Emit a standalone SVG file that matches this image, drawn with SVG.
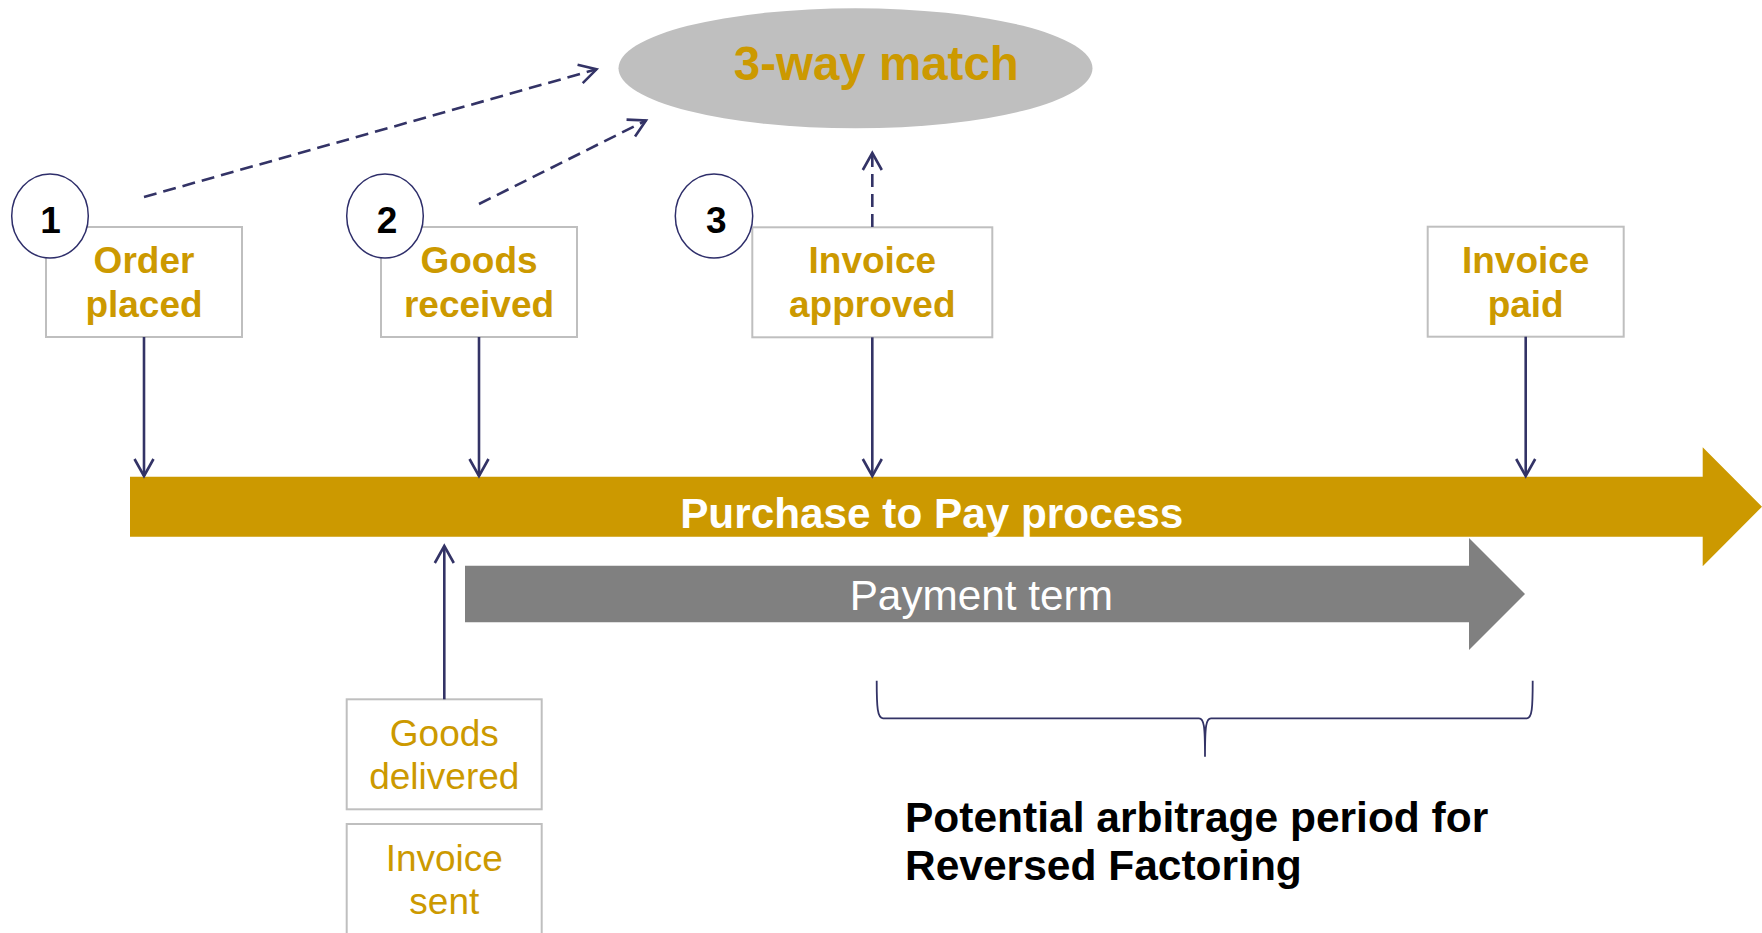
<svg xmlns="http://www.w3.org/2000/svg" width="1762" height="933" viewBox="0 0 1762 933">
<defs>
<style>
.box{fill:#FFFFFF;stroke:#BFBFBF;stroke-width:2}
.num{fill:#FFFFFF;stroke:#2E2E6A;stroke-width:1.5}
.numt{font-family:"Liberation Sans",Arial,sans-serif;font-weight:bold;font-size:37px;fill:#000000;text-anchor:middle}
.bt{font-family:"Liberation Sans",Arial,sans-serif;font-weight:bold;font-size:37px;fill:#CC9900;text-anchor:middle}
.rt{font-family:"Liberation Sans",Arial,sans-serif;font-size:37px;fill:#CC9900;text-anchor:middle}
.conn{fill:none;stroke:#333366;stroke-width:2.6}
.dash{stroke-dasharray:13 7}
</style>
<marker id="ah" markerUnits="userSpaceOnUse" viewBox="-20 -12 24 24" markerWidth="24" markerHeight="24" refX="0" refY="0" orient="auto">
<path d="M-17,-9.5 L0,0 L-17,9.5" fill="none" stroke="#333366" stroke-width="2.6"/>
</marker>
</defs>
<rect x="0" y="0" width="1762" height="933" fill="#FFFFFF"/>

<g id="match">
<ellipse cx="855.5" cy="68.3" rx="237" ry="60" fill="#BFBFBF"/>
<text x="876.3" y="80" font-family="Liberation Sans,Arial,sans-serif" font-weight="bold" font-size="47.5" fill="#CC9900" text-anchor="middle">3-way match</text>
</g>

<g id="p2p">
<polygon points="130,476.7 1702.7,476.7 1702.7,447.3 1762,506.7 1702.7,566.2 1702.7,536.7 130,536.7" fill="#CC9900"/>
<text x="931.7" y="528.3" font-family="Liberation Sans,Arial,sans-serif" font-weight="bold" font-size="42.3" fill="#FFFFFF" text-anchor="middle">Purchase to Pay process</text>
</g>

<g id="payterm">
<polygon points="465,565.7 1469,565.7 1469,538 1525,594 1469,650 1469,622.3 465,622.3" fill="#808080"/>
<text x="981.3" y="610" font-family="Liberation Sans,Arial,sans-serif" font-size="42.3" fill="#FFFFFF" text-anchor="middle">Payment term</text>
</g>

<g id="order">
<rect class="box" x="46" y="227" width="196" height="110"/>
<text class="bt" x="144" y="273.3">Order</text>
<text class="bt" x="144" y="316.7">placed</text>
</g>
<g id="step1">
<ellipse class="num" cx="50" cy="216" rx="38.3" ry="42"/>
<text class="numt" x="50.5" y="232.5">1</text>
</g>

<g id="goodsreceived">
<rect class="box" x="381" y="227" width="196" height="110"/>
<text class="bt" x="479" y="273.3">Goods</text>
<text class="bt" x="479" y="316.7">received</text>
</g>
<g id="step2">
<ellipse class="num" cx="385" cy="216" rx="38.3" ry="42"/>
<text class="numt" x="387" y="232.5">2</text>
</g>

<g id="approved">
<rect class="box" x="752.3" y="227.3" width="240" height="110"/>
<text class="bt" x="872.3" y="273.3">Invoice</text>
<text class="bt" x="872.3" y="316.7">approved</text>
</g>
<g id="step3">
<ellipse class="num" cx="714" cy="216" rx="38.7" ry="42"/>
<text class="numt" x="716.3" y="232.5">3</text>
</g>

<g id="paid">
<rect class="box" x="1427.7" y="226.7" width="196" height="110"/>
<text class="bt" x="1525.7" y="273.3">Invoice</text>
<text class="bt" x="1525.7" y="316.7">paid</text>
</g>

<g id="delivered">
<rect class="box" x="346.7" y="699.3" width="195" height="110"/>
<text class="rt" x="444.3" y="746">Goods</text>
<text class="rt" x="444.3" y="789.3">delivered</text>
</g>

<g id="invoicesent">
<rect class="box" x="346.7" y="824" width="195" height="112"/>
<text class="rt" x="444.3" y="870.7">Invoice</text>
<text class="rt" x="444.3" y="914">sent</text>
</g>

<g id="arbitrage">
<text x="905" y="831.7" font-family="Liberation Sans,Arial,sans-serif" font-weight="bold" font-size="42.5" fill="#000000">Potential arbitrage period for</text>
<text x="905" y="880" font-family="Liberation Sans,Arial,sans-serif" font-weight="bold" font-size="42.5" fill="#000000">Reversed Factoring</text>
</g>

<g id="connectors">
<line class="conn dash" x1="144" y1="197" x2="596.5" y2="69.3" marker-end="url(#ah)"/>
<line class="conn dash" x1="479" y1="204" x2="646" y2="120.5" marker-end="url(#ah)"/>
<line class="conn dash" x1="872.3" y1="227" x2="872.3" y2="153" marker-end="url(#ah)"/>
<line class="conn" x1="144" y1="337" x2="144" y2="476" marker-end="url(#ah)"/>
<line class="conn" x1="479" y1="337" x2="479" y2="476" marker-end="url(#ah)"/>
<line class="conn" x1="872.3" y1="337.3" x2="872.3" y2="476" marker-end="url(#ah)"/>
<line class="conn" x1="1525.7" y1="336.7" x2="1525.7" y2="476" marker-end="url(#ah)"/>
<line class="conn" x1="444.3" y1="699.3" x2="444.3" y2="546" marker-end="url(#ah)"/>
<path d="M876.7,680.7 C876.7,708 877.5,718.3 883,718.3 H1199 C1204,718.3 1205,726 1205,756.7 C1205,726 1206,718.3 1211,718.3 H1527 C1532,718.3 1532.7,708 1532.7,680.7" fill="none" stroke="#333366" stroke-width="1.8"/>
</g>
</svg>
